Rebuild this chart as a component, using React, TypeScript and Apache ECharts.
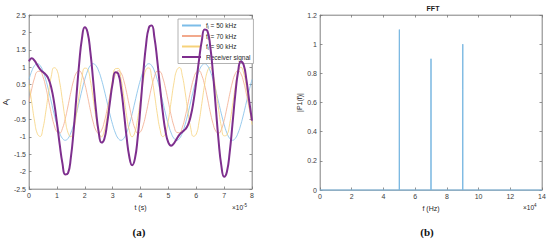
import React, { useEffect, useRef } from "react";
import * as echarts from "echarts";

// time (×1e-5 s)
const times = [0,0.1,0.2,0.3,0.4,0.5,0.6,0.7,0.8,0.9,1,1.1,1.2,1.3,1.4,1.5,1.6,1.7,1.8,1.9,2,2.1,2.2,2.3,2.4,2.5,2.6,2.7,2.8,2.9,3,3.1,3.2,3.3,3.4,3.5,3.6,3.7,3.8,3.9,4,4.1,4.2,4.3,4.4,4.5,4.6,4.7,4.8,4.9,5,5.1,5.2,5.3,5.4,5.5,5.6,5.7,5.8,5.9,6,6.1,6.2,6.3,6.4,6.5,6.6,6.7,6.8,6.9,7,7.1,7.2,7.3,7.4,7.5,7.6,7.7,7.8,7.9,8];

const sig50 = [0.647,0.890,1.046,1.100,1.046,0.890,0.647,0.340,0,-0.340,-0.647,-0.890,-1.046,-1.100,-1.046,-0.890,-0.647,-0.340,0,0.340,
  0.647,0.890,1.046,1.100,1.046,0.890,0.647,0.340,0,-0.340,-0.647,-0.890,-1.046,-1.100,-1.046,-0.890,-0.647,-0.340,0,0.340,
  0.647,0.890,1.046,1.100,1.046,0.890,0.647,0.340,0,-0.340,-0.647,-0.890,-1.046,-1.100,-1.046,-0.890,-0.647,-0.340,0,0.340,
  0.647,0.890,1.046,1.100,1.046,0.890,0.647,0.340,0,-0.340,-0.647,-0.890,-1.046,-1.100,-1.046,-0.890,-0.647,-0.340,0,0.340,
  0.647];

const sig70 = [0,0.383,0.693,0.872,0.884,0.728,0.434,0.057,-0.331,-0.656,-0.856,-0.893,-0.760,-0.482,-0.113,0.278,0.616,0.837,0.898,0.789,
  0.529,0.169,-0.224,-0.574,-0.814,-0.900,-0.814,-0.574,-0.224,0.169,0.529,0.789,0.898,0.837,0.616,0.278,-0.113,-0.482,-0.760,-0.893,
  -0.856,-0.656,-0.331,0.057,0.434,0.728,0.884,0.872,0.693,0.383,0,-0.383,-0.693,-0.872,-0.884,-0.728,-0.434,-0.057,0.331,0.656,
  0.856,0.893,0.760,0.482,0.113,-0.278,-0.616,-0.837,-0.898,-0.789,-0.529,-0.169,0.224,0.574,0.814,0.900,0.814,0.574,0.224,-0.169,
  -0.529];

const sig90 = [0.520,-0.019,-0.552,-0.913,-0.990,-0.758,-0.291,0.267,0.742,0.986,0.923,0.572,0.044,-0.498,-0.885,-0.997,-0.798,-0.351,0.206,0.698,
  0.973,0.945,0.623,0.107,-0.443,-0.854,-1.000,-0.834,-0.409,0.144,0.652,0.957,0.964,0.671,0.169,-0.386,-0.820,-0.999,-0.867,-0.465,
  0.082,0.603,0.937,0.979,0.716,0.230,-0.327,-0.783,-0.994,-0.897,-0.520,0.019,0.552,0.913,0.990,0.758,0.291,-0.267,-0.742,-0.986,
  -0.923,-0.572,-0.044,0.498,0.885,0.997,0.798,0.351,-0.206,-0.698,-0.973,-0.945,-0.623,-0.107,0.443,0.854,1.000,0.834,0.409,-0.144,
  -0.652];

const receiver = [1.167,1.254,1.187,1.059,0.940,0.860,0.790,0.664,0.411,-0.010,-0.580,-1.211,-1.762,-2.080,-2.044,-1.609,-0.829,0.146,1.104,1.827,
  2.149,2.004,1.445,0.633,-0.211,-0.864,-1.167,-1.068,-0.633,-0.027,0.534,0.856,0.816,0.408,-0.261,-0.998,-1.580,-1.821,-1.627,-1.018,
  -0.127,0.837,1.652,2.136,2.196,1.848,1.204,0.429,-0.301,-0.854,-1.167,-1.254,-1.187,-1.059,-0.940,-0.860,-0.790,-0.664,-0.411,0.010,
  0.580,1.211,1.762,2.080,2.044,1.609,0.829,-0.146,-1.104,-1.827,-2.149,-2.004,-1.445,-0.633,0.211,0.864,1.167,1.068,0.633,0.027,
  -0.534];

const seriesNames = ["50 kHz", "70 kHz", "90 kHz", "Receiver signal"];

// FFT (frequency ×1e4 Hz)
const fftFreq = [0, 4.995, 5.0, 5.005, 5.01, 6.995, 7.0, 7.005, 8.995, 9.0, 9.005, 9.01, 14];
const fftAmp = [0, 0, 0.86, 1.1, 0, 0, 0.9, 0, 0, 0.69, 1.0, 0, 0];

const xTicksA = { min: 0, max: 8, interval: 1 };
const yTicksA = { min: -2.5, max: 2.5, interval: 0.5 };
const xTicksB = { min: 0, max: 14, interval: 2 };
const yTicksB = { min: 0, max: 1.2, interval: 0.2 };

const FONT = "Liberation Sans, Arial, Helvetica, sans-serif";
const AX = "#9a9a9a";
const LBL = "#404040";

function pairs(xs: number[], ys: number[]) {
  return xs.map((x, i) => [x, ys[i]]);
}

export default function App() {
  const ref = useRef<HTMLDivElement>(null);
  useEffect(() => {
    if (!ref.current) return;
    const chart = echarts.init(ref.current, undefined, { renderer: "svg" });
    const axisCommon = (pos: string, gridIndex: number, ticks: any, showLabel: boolean) => ({
      type: "value",
      gridIndex,
      position: pos,
      ...ticks,
      axisLine: { show: true, onZero: false, lineStyle: { color: AX, width: 0.8 } },
      axisTick: { show: true, inside: true, length: 2.5, lineStyle: { color: "#777", width: 0.8 } },
      splitLine: { show: false },
      axisLabel: { show: showLabel, fontSize: 7, color: LBL, fontFamily: FONT, margin: 3 },
      z: 1,
    });
    const lineColors = ["#7cbde8", "#f2a98c", "#f6d27a", "#7e2f8e"];
    const sigs = [sig50, sig70, sig90, receiver];
    const option: any = {
      animation: false,
      grid: [
        { left: 29, right: 298, top: 15, bottom: 52, show: true, borderColor: AX, borderWidth: 0.8, backgroundColor: "#fff" },
        { left: 320, right: 8, top: 15, bottom: 51, show: true, borderColor: AX, borderWidth: 0.8, backgroundColor: "#fff" },
      ],
      xAxis: [
        { ...axisCommon("bottom", 0, xTicksA, true), name: "t (s)", nameLocation: "middle", nameGap: 15,
          nameTextStyle: { fontSize: 7, color: "#262626", fontFamily: FONT } },
        { ...axisCommon("top", 0, xTicksA, false) },
        { ...axisCommon("bottom", 1, xTicksB, true), name: "f (Hz)", nameLocation: "middle", nameGap: 15,
          nameTextStyle: { fontSize: 7, color: "#262626", fontFamily: FONT } },
        { ...axisCommon("top", 1, xTicksB, false) },
      ],
      yAxis: [
        { ...axisCommon("left", 0, yTicksA, true), name: "{a|A}{s|i}", nameLocation: "middle", nameGap: 13,
          nameTextStyle: { fontSize: 8, color: "#262626", fontFamily: FONT,
            rich: { a: { fontSize: 8, fontFamily: FONT, color: "#262626" }, s: { fontSize: 5, fontFamily: FONT, color: "#262626", padding: [5, 0, 0, 0] } } } },
        { ...axisCommon("right", 0, yTicksA, false) },
        { ...axisCommon("left", 1, yTicksB, true), name: "|P1(f)|", nameLocation: "middle", nameGap: 16,
          nameTextStyle: { fontSize: 7, color: "#262626", fontFamily: FONT } },
        { ...axisCommon("right", 1, yTicksB, false) },
      ],
      legend: {
        orient: "vertical",
        left: 178,
        top: 19,
        width: 69,
        padding: [3, 3, 3, 3],
        itemGap: 2.5,
        itemWidth: 19,
        itemHeight: 8,
        backgroundColor: "#fff",
        borderColor: "#a0a0a0",
        borderWidth: 0.8,
        borderRadius: 0,
        itemStyle: { opacity: 0 },
        data: seriesNames,
        formatter: (name: string) => (name.indexOf("kHz") >= 0 ? `{n|f}{s|i}{n| = ${name}}` : `{n|${name}}`),
        textStyle: {
          fontSize: 6.5, color: "#262626", fontFamily: FONT,
          rich: {
            n: { fontSize: 6.5, fontFamily: FONT, color: "#262626" },
            s: { fontSize: 4.5, fontFamily: FONT, color: "#262626", padding: [4, 0, 0, 0] },
          },
        },
      },
      graphic: [
        { type: "text", left: 232, top: 203, style: { text: "×10{e|-5}", fill: "#262626", font: `6.5px ${FONT}`,
          rich: { e: { fontSize: 4.5, fontFamily: FONT, fill: "#262626", padding: [0, 0, 4, 0] } } } },
        { type: "text", left: 523, top: 203, style: { text: "×10{e|4}", fill: "#262626", font: `6.5px ${FONT}`,
          rich: { e: { fontSize: 4.5, fontFamily: FONT, fill: "#262626", padding: [0, 0, 4, 0] } } } },
        { type: "text", x: 433, y: 8, style: { text: "FFT", fill: "#1a1a1a", font: `bold 7px ${FONT}`, align: "center", verticalAlign: "middle" } },
        { type: "text", x: 139, y: 232, style: { text: "(a)", fill: "#111", font: "bold 11px 'Liberation Serif', 'Times New Roman', serif", align: "center", verticalAlign: "middle" } },
        { type: "text", x: 427, y: 232, style: { text: "(b)", fill: "#111", font: "bold 11px 'Liberation Serif', 'Times New Roman', serif", align: "center", verticalAlign: "middle" } },
      ],
      series: [
        ...seriesNames.map((name, i) => ({
          name,
          type: "line",
          xAxisIndex: 0,
          yAxisIndex: 0,
          data: pairs(times, sigs[i]),
          smooth: true,
          symbol: "none",
          color: lineColors[i],
          lineStyle: { color: lineColors[i], width: i === 3 ? 2 : 0.8 },
          z: i === 3 ? 5 : 2,
        })),
        {
          name: "FFT",
          type: "line",
          xAxisIndex: 2,
          yAxisIndex: 2,
          data: pairs(fftFreq, fftAmp),
          symbol: "none",
          clip: false,
          color: "#7ab8e2",
          lineStyle: { color: "#7ab8e2", width: 1 },
          z: 5,
        },
      ],
    };
    chart.setOption(option);
    return () => chart.dispose();
  }, []);
  return <div ref={ref} style={{ position: "fixed", left: 0, top: 0, width: 550, height: 241, background: "#fff" }} />;
}
